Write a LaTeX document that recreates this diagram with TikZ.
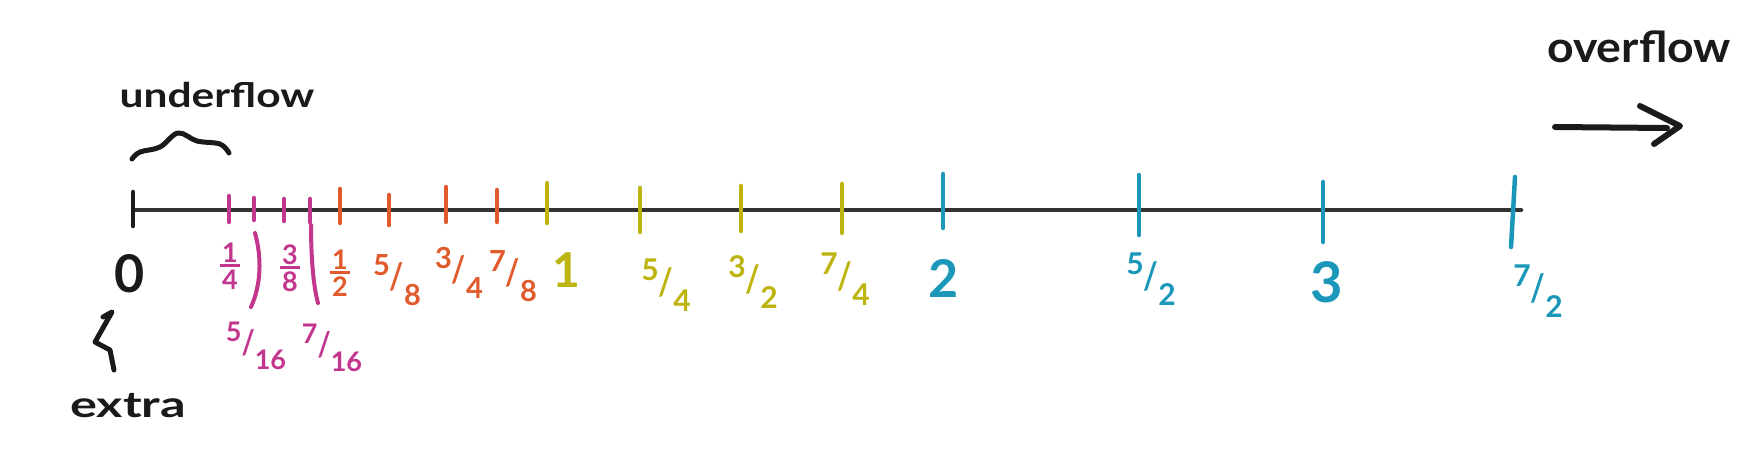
\documentclass[tikz,border=0pt]{standalone}
\usepackage{fontspec}
\setmainfont{Lato}
\usepackage{graphicx}
\definecolor{pk}{HTML}{C2368E}
\definecolor{org}{HTML}{E05A2B}
\definecolor{olv}{HTML}{BDB40F}
\definecolor{blu}{HTML}{1A97B9}
\definecolor{ink}{HTML}{1A1A1A}
\definecolor{axisc}{HTML}{333333}
\newcommand\fsz[1]{\fontsize{#1}{#1}\selectfont}
\newcommand\sfr[2]{\raisebox{0.5em}{#1}\scalebox{1.05}[1.25]{/}\raisebox{-0.55em}{#2}}
\newcommand\vfr[2]{\shortstack{#1\\[-0.05em]\rule{0.75em}{0.1em}\\#2}}
\begin{document}
\begin{tikzpicture}[x=1pt,y=-1pt,line cap=round,line join=round,
  tick/.style={line width=4.5pt},
  hand/.style={line width=5pt,draw=ink},
  lab/.style={inner sep=0pt,font=\bfseries\fsz{30}},
  big/.style={inner sep=0pt,font=\bfseries\fsz{52}},
  word/.style={inner sep=0pt,anchor=base,text=ink}]
\fill[white] (0,0) rectangle (1747,451);
\useasboundingbox (0,0) rectangle (1747,451);
% axis
\coordinate (L) at (133,210);
\coordinate (R) at (1521,210);
\draw[axisc,line width=4.5pt] (L) -- (R);
% ticks
\foreach \x/\a/\b/\c in {133/192/226/ink,
  229/196/222/pk,254/198/220/pk,284/199/221/pk,310/199/222/pk,
  340/189/223/org,389/195/225/org,446/187/222/org,497/190/222/org,
  547/183/223/olv,640/188/232/olv,741/186/231/olv,842/184/233/olv,
  943/174/228/blu,1139/175/235/blu,1323/182/242/blu}
  \draw[tick,\c] (\x,\a) -- (\x,\b);
\draw[tick,blu] (1515,177) -- (1511,247);
% labels
\node[big,text=ink] (n0) at (130,274) {0};
\node[lab,text=pk,font=\bfseries\fsz{27}] (f14) at (230,266) {\vfr{1}{4}};
\node[lab,text=pk,font=\bfseries\fsz{27}] (f38) at (290,268) {\vfr{3}{8}};
\node[lab,text=org,font=\bfseries\fsz{27}] (f12) at (340,273) {\vfr{1}{2}};
\node[lab,text=pk,font=\bfseries\fsz{27}] (f516) at (256,346) {\sfr{5}{16}};
\node[lab,text=pk,font=\bfseries\fsz{27}] (f716) at (332,348) {\sfr{7}{16}};
\node[lab,text=org,font=\bfseries\fsz{29}] (f58) at (397,280) {\sfr{5}{8}};
\node[lab,text=org,font=\bfseries\fsz{29}] (f34) at (459,273) {\sfr{3}{4}};
\node[lab,text=org,font=\bfseries\fsz{29}] (f78) at (513,276) {\sfr{7}{8}};
\node[big,text=olv,font=\bfseries\fsz{48}] (n1) at (566,270) {1};
\node[lab,text=olv] (f54) at (666,285) {\sfr{5}{4}};
\node[lab,text=olv] (f32) at (753,282) {\sfr{3}{2}};
\node[lab,text=olv] (f74) at (845,279) {\sfr{7}{4}};
\node[big,text=blu] (n2) at (944,278) {2};
\node[lab,text=blu] (f52) at (1151,279) {\sfr{5}{2}};
\node[big,text=blu,font=\bfseries\fsz{56}] (n3) at (1327,282) {3};
\node[lab,text=blu] (f72) at (1538,291) {\sfr{7}{2}};
% leaders to 5/16 and 7/16
\coordinate (l1a) at (255,233);
\coordinate (l1b) at (251,307);
\coordinate (l2a) at (311,225);
\coordinate (l2b) at (318,303);
\draw[pk,line width=4pt] (l1a) .. controls (262,258) and (261,285) .. (l1b);
\draw[pk,line width=4pt] (l2a) .. controls (311,255) and (313,285) .. (l2b);
% underflow brace and text
\draw[hand] plot[smooth,tension=0.6] coordinates {(132,159) (140,152) (160,147) (178,133) (197,141) (220,144) (229,153)};
\node[word,font=\bfseries\fsz{34}] (uf) at (217,107) {\scalebox{1.25}[1]{underflow}};
% extra squiggle and text
\draw[hand] (103,317) -- (112,312) -- (95,342) -- (110,350) -- (114,370);
\node[word,font=\bfseries\fsz{36}] (ex) at (128,417) {\scalebox{1.4}[1]{extra}};
% overflow
\node[word,font=\bfseries\fsz{43}] (of) at (1639,62) {\scalebox{1.08}[1]{overflow}};
\coordinate (a1) at (1555,127);
\coordinate (a2) at (1680,126);
\coordinate (b1) at (1640,106);
\coordinate (b2) at (1654,144);
\draw[hand,line width=6pt] (a1) -- (1667,128);
\draw[hand,line width=6pt] (b1) -- (a2) -- (b2);
\end{tikzpicture}
\end{document}
